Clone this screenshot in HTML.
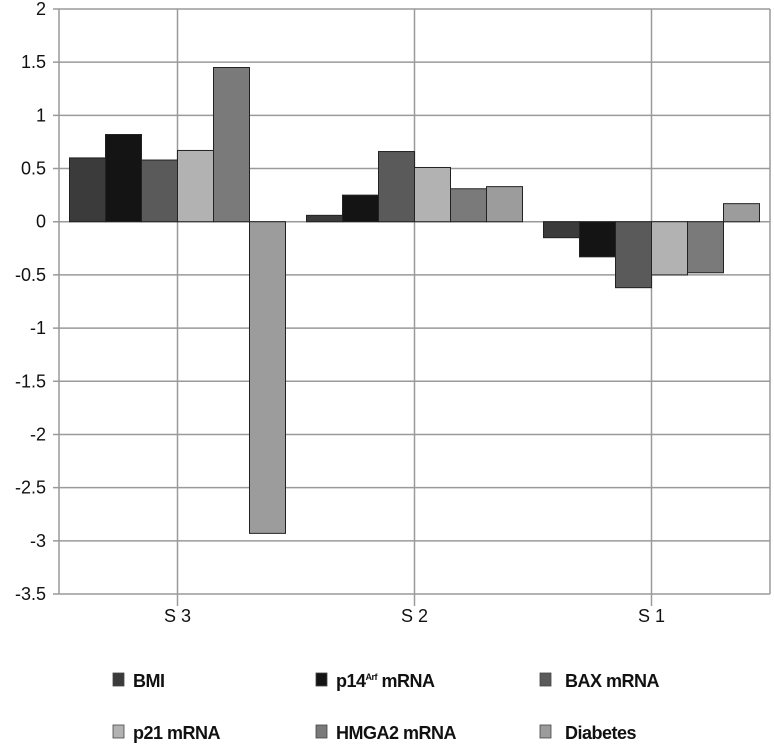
<!DOCTYPE html>
<html><head><meta charset="utf-8"><style>
body{margin:0;background:#fff;}
svg text{font-family:"Liberation Sans",sans-serif;}
</style></head><body>
<svg width="774" height="746" viewBox="0 0 774 746" xmlns="http://www.w3.org/2000/svg">
<g id="grid"></g><g id="bars"></g><g id="axes"></g><g id="legend"></g>
</svg>
<script>
const categories=["S 3","S 2","S 1"];
const seriesNames=["BMI","p14Arf mRNA","BAX mRNA","p21 mRNA","HMGA2 mRNA","Diabetes"];
const bmi=[0.6,0.06,-0.15];
const p14=[0.82,0.25,-0.33];
const bax=[0.58,0.66,-0.62];
const p21=[0.67,0.51,-0.5];
const hmga2=[1.45,0.31,-0.48];
const diabetes=[-2.93,0.33,0.17];
const yTicks=[2,1.5,1,0.5,0,-0.5,-1,-1.5,-2,-2.5,-3,-3.5];
const yTickLabels=["2","1.5","1","0.5","0","-0.5","-1","-1.5","-2","-2.5","-3","-3.5"];
const series=[bmi,p14,bax,p21,hmga2,diabetes];
const colors=["#3b3b3b","#141414","#5a5a5a","#b2b2b2","#7a7a7a","#9c9c9c"];
const NS="http://www.w3.org/2000/svg";
const L=59,R=770,T=9,B=594,yMax=2,yMin=-3.5;
const y=v=>T+(yMax-v)/(yMax-yMin)*(B-T);
const bandW=(R-L)/categories.length;
const xc=i=>L+bandW*(i+0.5);
const barW=36;
function mk(tag,attrs,parent){const e=document.createElementNS(NS,tag);for(const k in attrs)e.setAttribute(k,attrs[k]);parent.appendChild(e);return e;}
const grid=document.getElementById('grid'),bars=document.getElementById('bars'),axes=document.getElementById('axes'),legend=document.getElementById('legend');
yTicks.forEach((t,i)=>{
 const l=mk('line',{x1:L-6,x2:R,y1:y(t),y2:y(t),stroke:'#9a9a9a','stroke-width':1.5},grid);
 
 
 const tx=mk('text',{x:L-13,y:y(t)+6,'text-anchor':'end','font-size':18,fill:'#111'},axes);
 tx.textContent=yTickLabels[i];
 
 
});
categories.forEach((c,i)=>{
 const l=mk('line',{x1:xc(i),x2:xc(i),y1:T,y2:B+12,stroke:'#9a9a9a','stroke-width':1.5},grid);
 
 
 const tx=mk('text',{x:xc(i),y:B+28,'text-anchor':'middle','font-size':18,fill:'#111'},axes);
 tx.textContent=c;
 
 
});
const lr=mk('line',{x1:R,x2:R,y1:T,y2:B,stroke:'#9a9a9a','stroke-width':1.5},grid);


const la=mk('line',{x1:L,x2:L,y1:T,y2:B,stroke:'#999','stroke-width':1.5},axes);


series.forEach((vals,s)=>{
 vals.forEach((v,i)=>{
  const x=xc(i)-3*barW+s*barW;
  const r=mk('rect',{x:x,y:Math.min(y(v),y(0)),width:barW,height:Math.abs(y(v)-y(0)),fill:colors[s],stroke:'#222','stroke-width':1},bars);
  
  
 });
});
const lx=[113,316,540],ly=[681,733];
seriesNames.forEach((n,s)=>{
 const gx=lx[s%3],gy=ly[Math.floor(s/3)];
 const g=mk('g',{},legend);
 
 
 mk('rect',{x:gx,y:gy-8,width:11,height:13,fill:colors[s],stroke:'#444','stroke-width':0.8},g);
 const t=mk('text',{x:gx+(s%3===2?25:20),y:gy+6,'font-size':18,'font-weight':'bold',fill:'#111','letter-spacing':'-0.5'},g);
 if(s===1){t.innerHTML='p14<tspan font-size="9" dy="-7">Arf</tspan><tspan dy="7"> mRNA</tspan>';}
 else t.textContent=n;
});
</script>
</body></html>
